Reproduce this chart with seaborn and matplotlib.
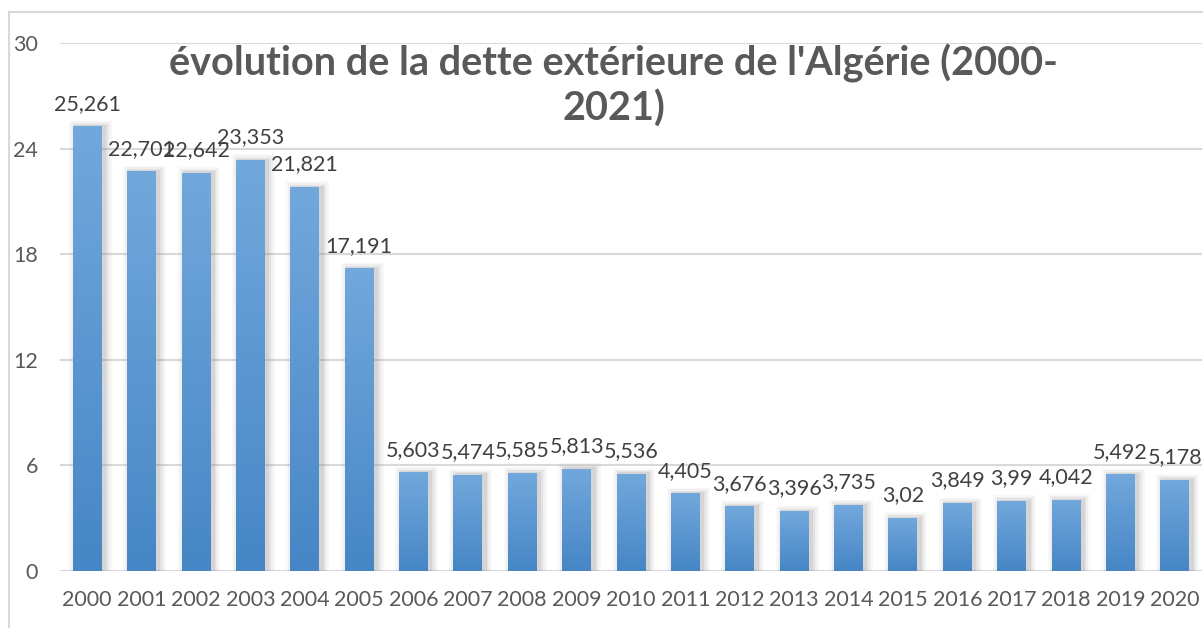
import matplotlib
matplotlib.use("Agg")
import matplotlib.pyplot as plt
from matplotlib.patches import Rectangle
from matplotlib.colors import LinearSegmentedColormap
import numpy as np
import seaborn as sns

annees = [str(a) for a in range(2000, 2021)]
dette = [25.261, 22.701, 22.642, 23.353, 21.821, 17.191, 5.603, 5.474, 5.585,
         5.813, 5.536, 4.405, 3.676, 3.396, 3.735, 3.02, 3.849, 3.99, 4.042,
         5.492, 5.178]
graduations = [0, 6, 12, 18, 24, 30]

sns.set_style("white")
plt.rcParams['font.family'] = ['Lato', 'DejaVu Sans']

fig = plt.figure(figsize=(12.03, 6.28), dpi=100)
ax = fig.add_axes([60 / 1203, 57 / 628, 1142 / 1203, 528 / 628])

sns.barplot(x=annees, y=dette, color='#5b9bd5', width=0.53, ax=ax, zorder=3)

# degrade bleu + ombre grise autour des barres
cmap = LinearSegmentedColormap.from_list('bleu', ['#4686c6', '#72a8dc'])
grad = np.linspace(0, 1, 256).reshape(-1, 1)
px = 1 / 54.4
py = 30 / 528
for p in list(ax.patches):
    x, w, h = p.get_x(), p.get_width(), p.get_height()
    for pad, a in [(7, 0.05), (5, 0.07), (3, 0.10), (1.5, 0.14)]:
        ax.add_patch(Rectangle((x - pad * px + 3 * px, 0), w + 2 * pad * px,
                               h + pad * py * 0.8, facecolor='#808080',
                               edgecolor='none', alpha=a, zorder=2))
    im = ax.imshow(grad, extent=[x, x + w, 0, h], origin='lower', aspect='auto',
                   cmap=cmap, zorder=3)
    im.set_clip_path(p)
    p.set_facecolor('none')
    p.set_edgecolor('none')

for i, v in enumerate(dette):
    ax.text(i, v + 0.72, f"{v:g}".replace('.', ','), ha='center', va='bottom',
            fontsize=15.5, color='#404040', zorder=5)

ax.set_xlim(-0.5, 20.5)
ax.set_ylim(0, 30)
ax.set_yticks(graduations)
ax.grid(axis='y', color='#d9d9d9', lw=1.5, zorder=0)
ax.set_axisbelow(True)
ax.tick_params(axis='both', length=0, labelsize=15.5, colors='#595959')
ax.tick_params(axis='y', pad=16)
ax.tick_params(axis='x', pad=14)
for s in ax.spines.values():
    s.set_visible(False)

fig.add_artist(Rectangle((9 / 1203, -0.1), 1.2, 1 - 12 / 628 + 0.1,
                         transform=fig.transFigure, fill=False,
                         edgecolor='#d9d9d9', lw=1.5))

fig.text(0.51, 0.863, "évolution de la dette extérieure de l'Algérie (2000-\n2021)",
         ha='center', va='center', fontsize=28.5, fontweight='bold',
         color='#595959', linespacing=1.2)

fig.savefig('out.png', dpi=100)
